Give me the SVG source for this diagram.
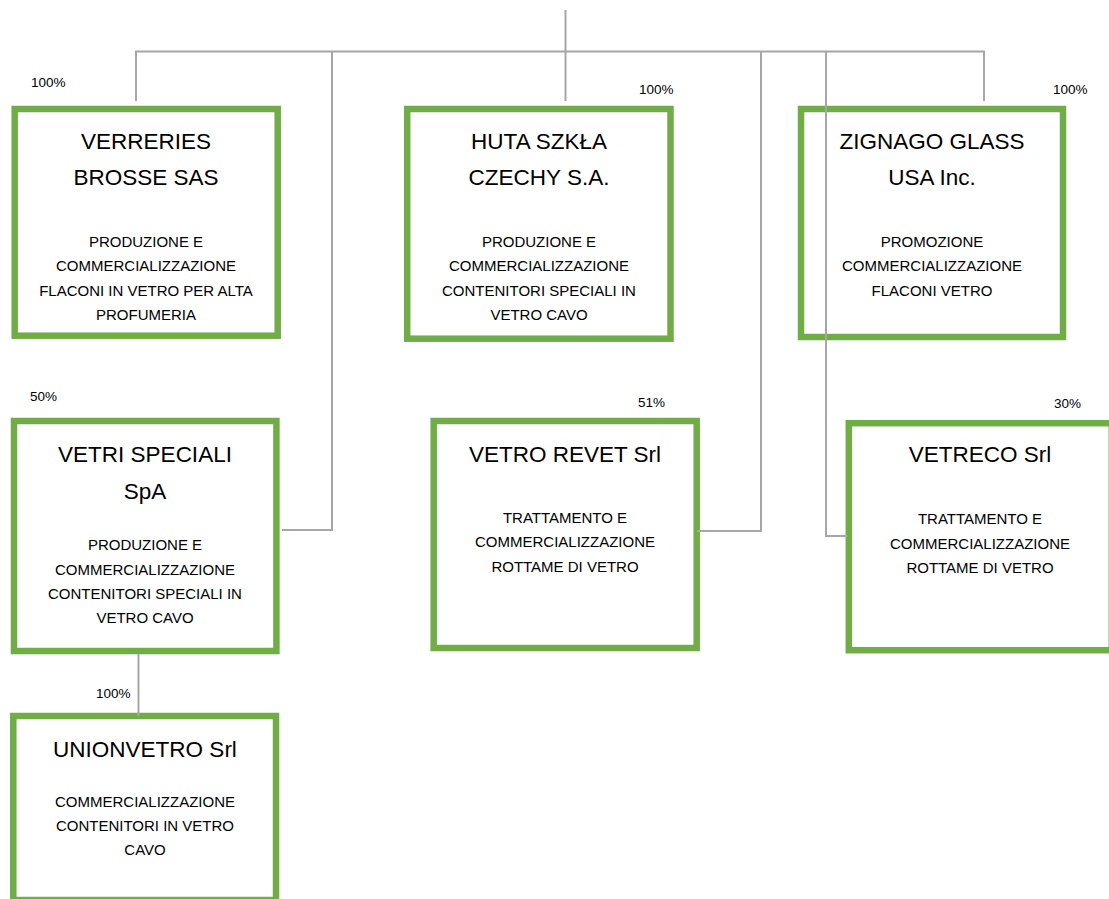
<svg xmlns="http://www.w3.org/2000/svg" width="1109" height="899" viewBox="0 0 1109 899">
<style>
.box{fill:#ffffff;stroke:#70ad47;stroke-width:6.5}
.conn{fill:none;stroke:#a6a6a6;stroke-width:2}
text{font-family:"Liberation Sans",Arial,sans-serif;fill:#000;text-anchor:middle}
.t{font-size:22.5px}
.d{font-size:15px}
.p{font-size:13.5px;text-anchor:start}
</style>
<rect width="1109" height="899" fill="#ffffff"/>
<g id="n-verreries">
<rect class="box" x="14.7" y="109" width="263" height="226.7"/>
<text class="t" x="146" y="149">VERRERIES</text>
<text class="t" x="146" y="185">BROSSE SAS</text>
<text class="d" x="146" y="246.7">PRODUZIONE E</text>
<text class="d" x="146" y="271">COMMERCIALIZZAZIONE</text>
<text class="d" x="146" y="295.5">FLACONI IN VETRO PER ALTA</text>
<text class="d" x="146" y="319.5">PROFUMERIA</text>
<text class="p" x="31" y="87">100%</text>
</g>
<g id="n-huta">
<rect class="box" x="407.2" y="109" width="263.3" height="229.7"/>
<text class="t" x="539" y="149">HUTA SZKŁA</text>
<text class="t" x="539" y="185">CZECHY S.A.</text>
<text class="d" x="539" y="246.7">PRODUZIONE E</text>
<text class="d" x="539" y="271">COMMERCIALIZZAZIONE</text>
<text class="d" x="539" y="295.5">CONTENITORI SPECIALI IN</text>
<text class="d" x="539" y="319.5">VETRO CAVO</text>
<text class="p" x="639" y="94">100%</text>
</g>
<g id="n-zignago">
<rect class="box" x="801" y="109" width="262" height="228"/>
<text class="t" x="932" y="149">ZIGNAGO GLASS</text>
<text class="t" x="932" y="185">USA Inc.</text>
<text class="d" x="932" y="246.7">PROMOZIONE</text>
<text class="d" x="932" y="271">COMMERCIALIZZAZIONE</text>
<text class="d" x="932" y="295.5">FLACONI VETRO</text>
<text class="p" x="1053" y="94">100%</text>
</g>
<g id="n-vetri-speciali">
<rect class="box" x="14" y="421" width="262.4" height="230"/>
<text class="t" x="145" y="461.7">VETRI SPECIALI</text>
<text class="t" x="145" y="499">SpA</text>
<text class="d" x="145" y="550">PRODUZIONE E</text>
<text class="d" x="145" y="575">COMMERCIALIZZAZIONE</text>
<text class="d" x="145" y="599">CONTENITORI SPECIALI IN</text>
<text class="d" x="145" y="623.3">VETRO CAVO</text>
<text class="p" x="30" y="400.7">50%</text>
</g>
<g id="n-vetro-revet">
<rect class="box" x="433.7" y="421" width="263" height="227"/>
<text class="t" x="565" y="461.7">VETRO REVET Srl</text>
<text class="d" x="565" y="522.7">TRATTAMENTO E</text>
<text class="d" x="565" y="546.7">COMMERCIALIZZAZIONE</text>
<text class="d" x="565" y="571.5">ROTTAME DI VETRO</text>
<text class="p" x="638" y="406.7">51%</text>
</g>
<g id="n-vetreco">
<rect class="box" x="848.8" y="423.2" width="263" height="227"/>
<text class="t" x="980" y="461.7">VETRECO Srl</text>
<text class="d" x="980" y="524.3">TRATTAMENTO E</text>
<text class="d" x="980" y="549.3">COMMERCIALIZZAZIONE</text>
<text class="d" x="980" y="573.3">ROTTAME DI VETRO</text>
<text class="p" x="1054" y="408">30%</text>
</g>
<g id="n-unionvetro">
<rect class="box" x="13.3" y="716" width="262.7" height="184"/>
<text class="t" x="145" y="756.7">UNIONVETRO Srl</text>
<text class="d" x="145" y="806.7">COMMERCIALIZZAZIONE</text>
<text class="d" x="145" y="830.7">CONTENITORI IN VETRO</text>
<text class="d" x="145" y="855">CAVO</text>
<text class="p" x="96" y="698.3">100%</text>
</g>
<g id="connectors">
<path class="conn" d="M565.5,10 V101"/>
<path class="conn" d="M136,101 V51.5 H984 V101"/>
<path class="conn" d="M332,51.5 V530 H282"/>
<path class="conn" d="M761,51.5 V531 H697"/>
<path class="conn" d="M826,51.5 V536 H848"/>
<path class="conn" d="M138.5,654 V716"/>
</g>
</svg>
